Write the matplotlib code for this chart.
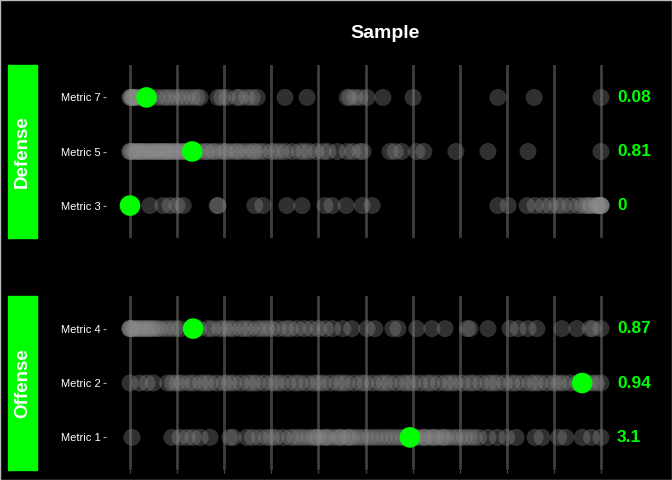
import matplotlib.pyplot as plt
from matplotlib.patches import Rectangle

plt.rcParams["font.family"] = ["Liberation Sans", "DejaVu Sans"]

# percentile positions (0-1) of every player
metric_7 = [0.0, 0.002, 0.004, 0.006, 0.008, 0.011, 0.015, 0.021, 0.042, 0.057, 0.070,
            0.079, 0.089, 0.100, 0.110, 0.121, 0.132, 0.142, 0.149, 0.187, 0.195, 0.206,
            0.227, 0.234, 0.248, 0.259, 0.270, 0.329, 0.376, 0.461, 0.467, 0.478, 0.488,
            0.503, 0.537, 0.601, 0.781, 0.858, 1.0]
metric_5 = [0.0, 0.0, 0.005, 0.01, 0.012, 0.018, 0.02, 0.025, 0.03, 0.033, 0.04, 0.042,
            0.048, 0.05, 0.055, 0.06, 0.063, 0.07, 0.072, 0.078, 0.08, 0.085, 0.09, 0.095,
            0.1, 0.104, 0.11, 0.115, 0.12, 0.125, 0.128, 0.135, 0.14, 0.15, 0.16, 0.165,
            0.175, 0.18, 0.19, 0.2, 0.205, 0.215, 0.225, 0.23, 0.24, 0.25, 0.26, 0.265,
            0.275, 0.285, 0.3, 0.31, 0.32, 0.33, 0.345, 0.36, 0.37, 0.38, 0.395, 0.41, 0.42,
            0.44, 0.461, 0.473, 0.488, 0.495, 0.552, 0.563, 0.577, 0.609, 0.624, 0.692,
            0.760, 0.845, 1.0]
metric_3 = [0.0, 0.0, 0.042, 0.070, 0.085, 0.1, 0.113, 0.185, 0.187, 0.265, 0.282, 0.333,
            0.365, 0.414, 0.429, 0.459, 0.493, 0.514, 0.781, 0.803, 0.843, 0.860, 0.877,
            0.892, 0.907, 0.919, 0.934, 0.951, 0.962, 0.97, 0.977, 0.98, 0.99, 0.992, 0.995,
            1.0, 1.0, 1.0, 1.0]
metric_4 = [0.0, 0.0, 0.0, 0.005, 0.01, 0.015, 0.02, 0.025, 0.03, 0.035, 0.04, 0.045, 0.05,
            0.057, 0.064, 0.075, 0.085, 0.095, 0.106, 0.145, 0.165, 0.175, 0.19, 0.2, 0.21,
            0.22, 0.235, 0.245, 0.255, 0.27, 0.28, 0.29, 0.3, 0.315, 0.33, 0.34, 0.355, 0.37,
            0.385, 0.4, 0.415, 0.43, 0.452, 0.471, 0.503, 0.520, 0.558, 0.569, 0.609, 0.641,
            0.669, 0.716, 0.722, 0.760, 0.807, 0.824, 0.845, 0.864, 0.917, 0.949, 0.977,
            0.983, 1.0]
metric_2 = [0.0, 0.02, 0.036, 0.05, 0.08, 0.09, 0.1, 0.11, 0.125, 0.135, 0.15, 0.16, 0.17,
            0.185, 0.2, 0.21, 0.22, 0.235, 0.25, 0.26, 0.27, 0.285, 0.3, 0.31, 0.32, 0.335,
            0.35, 0.36, 0.375, 0.39, 0.4, 0.41, 0.425, 0.44, 0.45, 0.46, 0.475, 0.49, 0.5,
            0.515, 0.53, 0.54, 0.55, 0.565, 0.58, 0.59, 0.6, 0.615, 0.63, 0.64, 0.655, 0.67,
            0.68, 0.69, 0.705, 0.72, 0.73, 0.745, 0.76, 0.77, 0.78, 0.795, 0.81, 0.82, 0.835,
            0.85, 0.86, 0.87, 0.885, 0.9, 0.91, 0.92, 0.935, 0.95, 0.97, 0.98, 0.99, 1.0]
metric_1 = [0.004, 0.089, 0.106, 0.121, 0.134, 0.149, 0.17, 0.212, 0.219, 0.248, 0.26,
            0.275, 0.29, 0.3, 0.31, 0.325, 0.34, 0.35, 0.36, 0.37, 0.38, 0.39, 0.395, 0.4,
            0.41, 0.415, 0.42, 0.43, 0.44, 0.445, 0.45, 0.46, 0.465, 0.47, 0.48, 0.49, 0.5,
            0.51, 0.52, 0.53, 0.54, 0.55, 0.56, 0.57, 0.58, 0.59, 0.6, 0.605, 0.61, 0.62,
            0.625, 0.63, 0.64, 0.645, 0.65, 0.66, 0.665, 0.67, 0.68, 0.69, 0.70, 0.71, 0.72,
            0.73, 0.74, 0.76, 0.78, 0.8, 0.82, 0.86, 0.875, 0.91, 0.925, 0.96, 0.98, 1.0]

# highlighted player: percentile position and raw value label
defense_metrics = ["Metric 7", "Metric 5", "Metric 3"]
defense_points = [metric_7, metric_5, metric_3]
defense_highlight = [0.035, 0.132, 0.0]
defense_labels = ["0.08", "0.81", "0"]

offense_metrics = ["Metric 4", "Metric 2", "Metric 1"]
offense_points = [metric_4, metric_2, metric_1]
offense_highlight = [0.134, 0.960, 0.594]
offense_labels = ["0.87", "0.94", "3.1"]

deciles = [0.0, 0.1, 0.2, 0.3, 0.4, 0.5, 0.6, 0.7, 0.8, 0.9, 1.0]

W, H = 672, 480
fig = plt.figure(figsize=(6.72, 4.8), dpi=100, facecolor="black")
fig.patches.append(Rectangle((0, 0), 1, 1, transform=fig.transFigure, fill=False,
                             edgecolor="#bbbbbb", lw=1.0))


def draw_panel(top_px, bot_px, name, metrics, points, highlight, labels, last):
    ax = fig.add_axes([106 / W, 1 - bot_px / H, 519 / W, (bot_px - top_px) / H])
    ax.set_facecolor("black")
    for s in ax.spines.values():
        s.set_visible(False)
    for d in deciles:
        ax.axvline(d, color="#3e3e3e", lw=2.0, zorder=1)
    n = len(metrics)
    for i, (m, pts, hl, lab) in enumerate(zip(metrics, points, highlight, labels)):
        y = n - i
        ax.scatter(pts, [y] * len(pts), s=150, color="#8c8c8c", alpha=0.35,
                   edgecolors="none", zorder=2)
        ax.scatter([hl], [y], s=220, color="#00ff00", edgecolors="none", zorder=3)
        ax.text(1.034, y, lab, color="#00ff00", fontsize=12.5, fontweight="bold",
                va="center", ha="left")
    ax.set_xlim(-0.051, 1.051)
    ax.set_ylim(0.4, n + 0.6)
    ax.set_yticks(range(n, 0, -1))
    ax.set_yticklabels(metrics, color="white", fontsize=8)
    ax.tick_params(axis="y", colors="#aaaaaa", length=2.5, width=0.8, pad=1.5,
                   labelcolor="white")
    ax.set_xticks(deciles)
    ax.set_xticklabels([])
    ax.tick_params(axis="x", colors="#555555", length=2 if last else 0, width=0.8)

    # facet strip on the left
    fig.patches.append(Rectangle((8 / W, 1 - bot_px / H), 29 / W, (bot_px - top_px) / H,
                                 transform=fig.transFigure, color="#00ff00"))
    fig.text(22.5 / W, 1 - (top_px + bot_px) / 2 / H, name, rotation=90, color="white",
             fontsize=13.5, fontweight="bold", ha="center", va="center")
    return ax


draw_panel(65, 238, "Defense", defense_metrics, defense_points, defense_highlight,
           defense_labels, False)
draw_panel(296, 470, "Offense", offense_metrics, offense_points, offense_highlight,
           offense_labels, True)

fig.text(385 / W, 1 - 34 / H, "Sample", color="white", fontsize=14, fontweight="bold",
         ha="center", va="center")

fig.savefig("out.png", dpi=100, facecolor="black")
